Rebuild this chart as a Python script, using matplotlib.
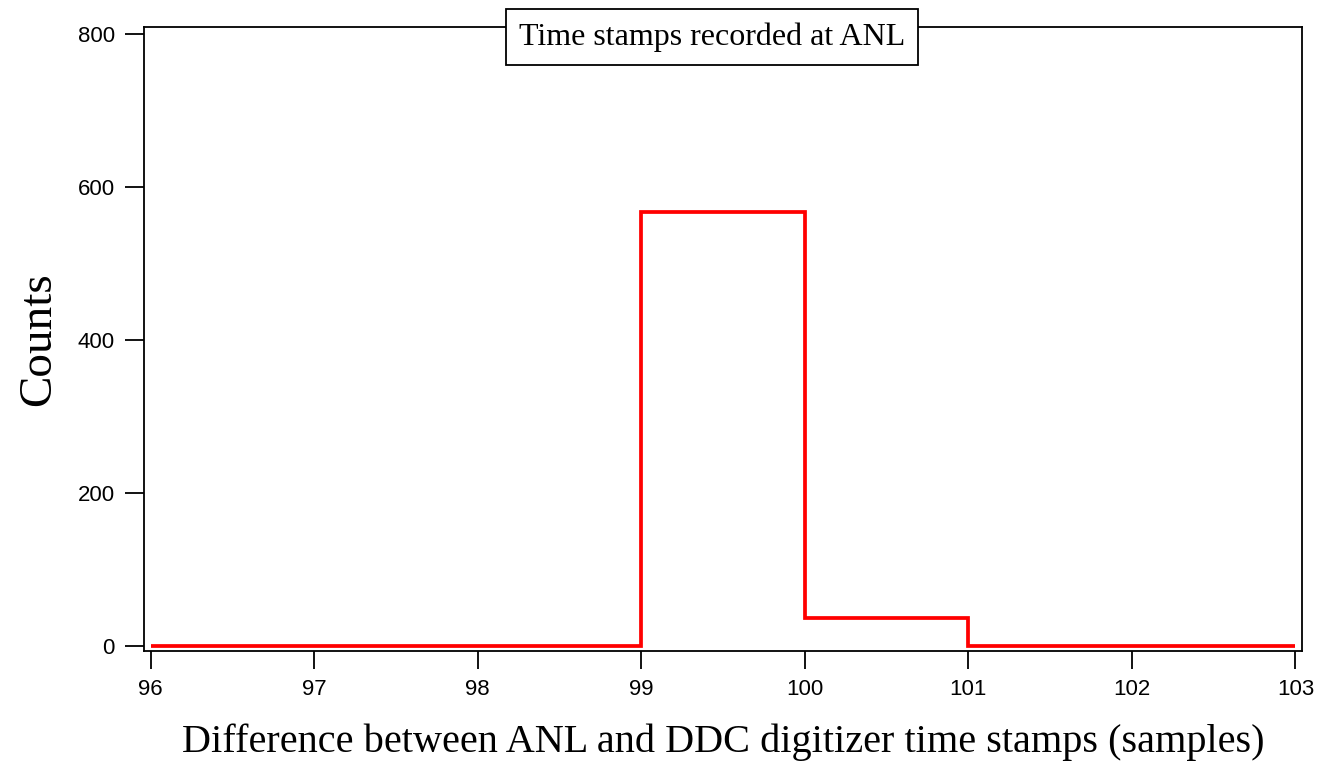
import matplotlib
matplotlib.use("Agg")
import matplotlib.pyplot as plt
import numpy as np

# histogram of time stamp differences
bin_edges = [96, 97, 98, 99, 100, 101, 102, 103]
counts = [0, 0, 0, 567, 37, 0, 0]
x_ticks = [96, 97, 98, 99, 100, 101, 102, 103]
y_ticks = [0, 200, 400, 600, 800]

serif = "Liberation Serif"
sans = "Liberation Sans"

fig = plt.figure(figsize=(13.17, 7.65), dpi=100)
ax = fig.add_axes([144 / 1317, 1 - 651 / 765, (1302 - 144) / 1317, (651 - 27) / 765])

ax.stairs(counts, bin_edges, baseline=None, color="#ff0000", linewidth=2.7)

ax.set_xlim(95.96, 103.04)
ax.set_ylim(-6.5, 809)
ax.set_xticks(x_ticks)
ax.set_yticks(y_ticks)
ax.set_xticklabels([str(t) for t in x_ticks], fontfamily=sans, fontsize=16)
ax.set_yticklabels([str(t) for t in y_ticks], fontfamily=sans, fontsize=16)
ax.tick_params(axis="y", length=14, width=1.3, pad=7)
ax.tick_params(axis="x", length=13, width=1.3, pad=7)
for s in ax.spines.values():
    s.set_linewidth(1.3)

ax.set_xlabel("Difference between ANL and DDC digitizer time stamps (samples)",
              fontfamily=serif, fontsize=29, labelpad=17)
ax.set_ylabel("Counts", fontfamily=serif, fontsize=34, labelpad=13)

fig.text(712 / 1317, 1 - 37 / 765, "Time stamps recorded at ANL",
         fontfamily=serif, fontsize=23, ha="center", va="center",
         bbox=dict(boxstyle="square,pad=0.4", facecolor="white",
                   edgecolor="black", linewidth=1.3))

fig.savefig("out.png", dpi=100)
